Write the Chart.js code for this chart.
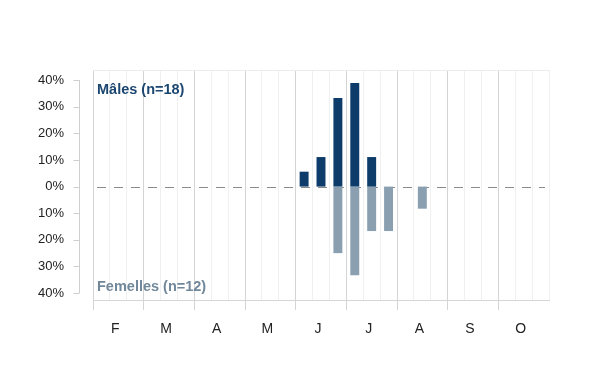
<!DOCTYPE html>
<html>
<head>
<meta charset="utf-8">
<script src="https://cdn.jsdelivr.net/npm/chart.js@4/dist/chart.umd.min.js"></script>
<style>
  html, body { margin: 0; padding: 0; background: #fff; }
  #wrap { width: 600px; height: 390px; }
</style>
</head>
<body>
<div id="wrap"><canvas id="chart" width="600" height="390"></canvas></div>
<script>
// months Feb..Oct, each split into 3 decades
const months = ["F", "M", "A", "M", "J", "J", "A", "S", "O"];
const decades = ["F1", "F2", "F3", "M1", "M2", "M3", "A1", "A2", "A3",
                 "M1", "M2", "M3", "J1", "J2", "J3", "J1", "J2", "J3",
                 "A1", "A2", "A3", "S1", "S2", "S3", "O1", "O2", "O3"];

// percent of individuals per decade
const males   = [0, 0, 0, 0, 0, 0, 0, 0, 0, 0, 0, 0,
                 5.6, 11.1, 33.3, 38.9, 11.1, 0, 0, 0, 0, 0, 0, 0, 0, 0, 0];
const females = [0, 0, 0, 0, 0, 0, 0, 0, 0, 0, 0, 0,
                 0, 0, -25.0, -33.3, -16.7, -16.7, 0, -8.3, 0, 0, 0, 0, 0, 0, 0];

const yTicks = [40, 30, 20, 10, 0, -10, -20, -30, -40];

const maleLabel = "Mâles (n=18)";
const femaleLabel = "Femelles (n=12)";

const FONT = "'Liberation Sans', Arial, sans-serif";

const decor = {
  id: "decor",
  beforeDatasetsDraw(chart) {
    const { ctx, chartArea, scales } = chart;
    const y = scales.y;
    ctx.save();
    // top border
    ctx.strokeStyle = "#ececec";
    ctx.lineWidth = 1;
    ctx.beginPath();
    ctx.moveTo(chartArea.left, chartArea.top + 0.5);
    ctx.lineTo(chartArea.right, chartArea.top + 0.5);
    ctx.stroke();
    // zero dashed line
    const y0 = Math.round(y.getPixelForValue(0)) + 0.5;
    ctx.strokeStyle = "#8a8a8a";
    ctx.setLineDash([9, 8]);
    ctx.beginPath();
    ctx.moveTo(chartArea.left + 4, y0);
    ctx.lineTo(chartArea.right - 4, y0);
    ctx.stroke();
    ctx.setLineDash([]);
    // y axis line with ticks
    const ax = chartArea.left - 13.5;
    ctx.strokeStyle = "#cfcfcf";
    ctx.beginPath();
    ctx.moveTo(ax, y.getPixelForValue(40));
    ctx.lineTo(ax, y.getPixelForValue(-40));
    yTicks.forEach(v => {
      const py = Math.round(y.getPixelForValue(v)) + 0.5;
      ctx.moveTo(ax - 6, py);
      ctx.lineTo(ax, py);
    });
    ctx.stroke();
    ctx.restore();
  },
  afterDatasetsDraw(chart) {
    const { ctx, chartArea } = chart;
    ctx.save();
    ctx.font = "bold 14.5px " + FONT;
    ctx.textBaseline = "middle";
    ctx.textAlign = "left";
    ctx.fillStyle = "#1b4670";
    ctx.fillText(maleLabel, chartArea.left + 4, chartArea.top + 19.5);
    ctx.fillStyle = "#71879a";
    ctx.fillText(femaleLabel, chartArea.left + 4, chartArea.bottom - 13);
    ctx.restore();
  }
};

new Chart(document.getElementById("chart"), {
  type: "bar",
  data: {
    labels: decades,
    datasets: [
      { label: maleLabel, data: males, backgroundColor: "#0d3c6a" },
      { label: femaleLabel, data: females, backgroundColor: "#8aa0b1" }
    ]
  },
  options: {
    responsive: false,
    animation: false,
    devicePixelRatio: 1,
    layout: { padding: { top: 70, right: 51, left: 0, bottom: 0 } },
    datasets: { bar: { categoryPercentage: 1, barPercentage: 0.53 } },
    plugins: { legend: { display: false }, tooltip: { enabled: false } },
    scales: {
      x: {
        stacked: true,
        afterFit: s => { s.height = 90; },
        border: { color: "#d6d6d6" },
        grid: {
          offset: true,
          tickLength: 10,
          color: c => (c.index % 3 === 0 ? "#d4d4d4" : "#f0f0f0"),
          tickColor: c => (c.index % 3 === 0 ? "#d4d4d4" : "rgba(0,0,0,0)")
        },
        ticks: {
          autoSkip: false,
          maxRotation: 0,
          padding: 11,
          labelOffset: -3,
          color: "#222",
          font: { family: FONT, size: 14 },
          callback: (v, i) => (i % 3 === 1 ? months[(i - 1) / 3] : "")
        }
      },
      y: {
        stacked: true,
        min: -42.6,
        max: 43.8,
        afterFit: s => { s.width = 93; },
        afterBuildTicks: s => { s.ticks = yTicks.map(v => ({ value: v })); },
        border: { display: false },
        grid: { display: false, drawTicks: false },
        ticks: {
          padding: 29,
          color: "#222",
          font: { family: FONT, size: 13 },
          callback: v => Math.abs(v) + "%"
        }
      }
    }
  },
  plugins: [decor]
});
</script>
</body>
</html>
